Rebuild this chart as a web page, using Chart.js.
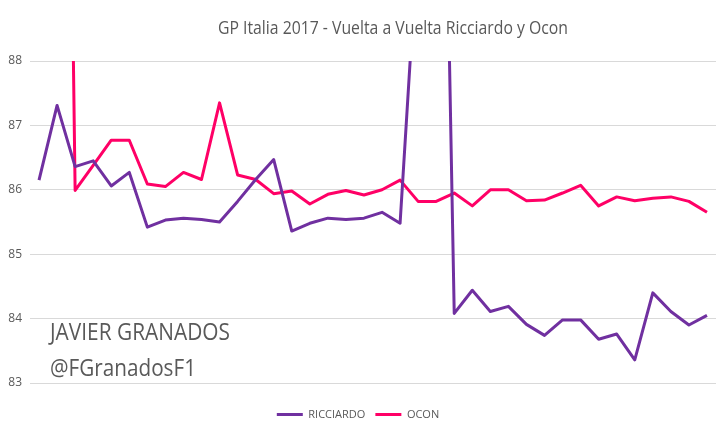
<!DOCTYPE html>
<html>
<head>
<meta charset="utf-8">
<script src="https://cdn.jsdelivr.net/npm/chart.js@4/dist/chart.umd.min.js"></script>
<style>
  html, body { margin: 0; padding: 0; background: #ffffff; }
  #wrap { width: 728px; height: 438px; position: relative; }
</style>
</head>
<body>
<div id="wrap"><canvas id="c" width="728" height="438"></canvas></div>
<script>
const chartTitle = 'GP Italia 2017 - Vuelta a Vuelta Ricciardo y Ocon';
const watermarkLines = ['JAVIER GRANADOS', '@FGranadosF1'];
const laps = ['1','2','3','4','5','6','7','8','9','10','11','12','13','14','15','16','17','18','19','20',
  '21','22','23','24','25','26','27','28','29','30','31','32','33','34','35','36','37','38'];
const ricciardo = [86.15, 87.31, 86.36, 86.45, 86.06, 86.27, 85.42, 85.53, 85.56, 85.54,
  85.50, 85.82, 86.16, 86.47, 85.36, 85.48, 85.56, 85.54, 85.56, 85.65,
  85.48, 90.0, 99.0, 84.08, 84.44, 84.11, 84.19, 83.91, 83.74, 83.98,
  83.98, 83.68, 83.76, 83.36, 84.40, 84.11, 83.90, 84.05];
const ocon = [null, 107.0, 85.99, 86.38, 86.77, 86.77, 86.09, 86.05, 86.27, 86.16,
  87.35, 86.23, 86.16, 85.94, 85.98, 85.78, 85.93, 85.99, 85.92, 86.00,
  86.15, 85.82, 85.82, 85.95, 85.75, 86.00, 86.00, 85.83, 85.84, 85.95,
  86.07, 85.75, 85.89, 85.83, 85.87, 85.89, 85.82, 85.65];
const yTicks = [83, 84, 85, 86, 87, 88];

const FONT = "'Liberation Sans Narrow', 'Open Sans', sans-serif";
const TEXT_COLOR = '#595959';

function fitText(ctx, text, x, y, size, targetWidth, align) {
  ctx.save();
  ctx.font = size + 'px ' + FONT;
  ctx.fillStyle = TEXT_COLOR;
  ctx.textBaseline = 'alphabetic';
  const w = ctx.measureText(text).width;
  const s = Math.min(1.15, targetWidth / w);
  let left = x;
  if (align === 'center') left = x - (w * s) / 2;
  ctx.translate(left, y);
  ctx.scale(s, 1);
  ctx.textAlign = 'left';
  ctx.fillText(text, 0, 0);
  ctx.restore();
}

const decor = {
  id: 'decor',
  beforeDatasetsDraw(chart) {
    const ctx = chart.ctx;
    fitText(ctx, watermarkLines[0], 50, 340, 23, 180, 'left');
    fitText(ctx, watermarkLines[1], 50, 376, 23, 146, 'left');
  },
  afterDraw(chart) {
    const ctx = chart.ctx;
    fitText(ctx, chartTitle, 393, 34, 18, 350, 'center');
  }
};

new Chart(document.getElementById('c'), {
  type: 'line',
  data: {
    labels: laps,
    datasets: [
      { label: 'RICCIARDO', data: ricciardo, borderColor: '#7030A0', backgroundColor: '#7030A0',
        borderWidth: 3, pointRadius: 0, tension: 0, borderJoinStyle: 'round' },
      { label: 'OCON', data: ocon, borderColor: '#FF0066', backgroundColor: '#FF0066',
        borderWidth: 3, pointRadius: 0, tension: 0, borderJoinStyle: 'round' }
    ]
  },
  options: {
    responsive: false,
    animation: false,
    devicePixelRatio: 1,
    layout: { padding: { top: 61, left: 0, right: 12, bottom: 8 } },
    plugins: {
      title: { display: false },
      tooltip: { enabled: false },
      legend: {
        position: 'bottom',
        labels: {
          color: TEXT_COLOR,
          font: { family: FONT, size: 11 },
          boxWidth: 26,
          boxHeight: 3,
          padding: 10,
          generateLabels(chart) {
            return chart.data.datasets.map((d, i) => ({
              text: d.label, fillStyle: d.borderColor, strokeStyle: d.borderColor,
              lineWidth: 0, datasetIndex: i, hidden: false, fontColor: TEXT_COLOR
            }));
          }
        }
      }
    },
    scales: {
      x: {
        type: 'category',
        offset: true,
        grid: { display: false },
        border: { display: false },
        ticks: { display: false },
        afterFit(scale) { scale.height = 16; }
      },
      y: {
        min: 83,
        max: 88,
        afterBuildTicks(scale) { scale.ticks = yTicks.map(v => ({ value: v })); },
        grid: { color: '#d9d9d9', lineWidth: 1, drawTicks: false },
        border: { display: false },
        ticks: { color: TEXT_COLOR, font: { family: FONT, size: 12 }, padding: 8 },
        afterFit(scale) { scale.width = 30; }
      }
    }
  },
  plugins: [decor]
});
</script>
</body>
</html>
